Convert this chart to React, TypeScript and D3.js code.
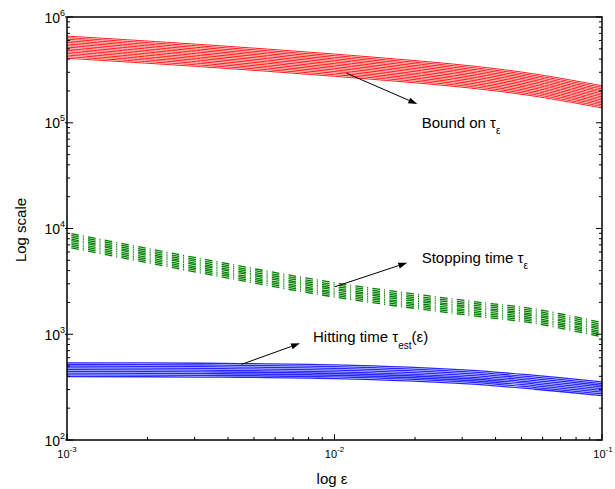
import React from "react";
import * as d3 from "d3";

// ---- data ----
const epsSamples = [0.001, 0.00316, 0.01, 0.0316, 0.0562, 0.1];
// lowest run of each band, values at epsSamples
const boundBase = [4.07e5, 3.39e5, 2.75e5, 2.14e5, 1.78e5, 1.38e5];
const stopBase = [6683, 3802, 2249, 1514, 1268, 942];
const hitBase = [398, 394, 380, 339, 302, 263];
// per-run multipliers (the runs stacked inside each band)
const boundRuns = [1.0, 1.035, 1.072, 1.109, 1.148, 1.189, 1.23, 1.274, 1.318, 1.365, 1.413, 1.462, 1.514, 1.567, 1.622];
const stopRuns = [1.0, 1.04, 1.08, 1.12, 1.17, 1.21, 1.26, 1.31, 1.365];
const hitRuns = [1.0, 1.038, 1.078, 1.12, 1.162, 1.207, 1.253, 1.3, 1.35];

const yMajor = [1e2, 1e3, 1e4, 1e5, 1e6];
const yMajorExp = ["2", "3", "4", "5", "6"];
const xMajor = [1e-3, 1e-2, 1e-1];
const xMajorExp = ["-3", "-2", "-1"];
const minorMult = [2, 3, 4, 5, 6, 7, 8, 9];

const W = 615;
const H = 489;
const L = 67, R = 602, T = 17, B = 440;
const FONT = "Arial, 'Liberation Sans', Helvetica, sans-serif";

export default function App() {
  const x = d3.scaleLog().domain([1e-3, 1e-1]).range([L, R]);
  const y = d3.scaleLog().domain([1e2, 1e6]).range([B, T]);

  const line = d3
    .line<[number, number]>()
    .x((d) => x(d[0]))
    .y((d) => y(d[1]))
    .curve(d3.curveCatmullRom.alpha(0.5));

  const runsPaths = (base: number[], runs: number[]) =>
    runs.map((m) => line(epsSamples.map((e, i) => [e, base[i] * m]))!);

  const yMinor: number[] = [];
  yMajor.slice(0, -1).forEach((v) => minorMult.forEach((m) => yMinor.push(v * m)));
  const xMinor: number[] = [];
  xMajor.slice(0, -1).forEach((v) => minorMult.forEach((m) => xMinor.push(v * m)));

  const arrow = (x1: number, y1: number, x2: number, y2: number) => {
    const a = Math.atan2(y2 - y1, x2 - x1);
    const len = 9, hw = 3;
    const bx = x2 - len * Math.cos(a), by = y2 - len * Math.sin(a);
    const px = -Math.sin(a) * hw, py = Math.cos(a) * hw;
    return (
      <g>
        <line x1={x1} y1={y1} x2={bx} y2={by} stroke="#000" strokeWidth={1} />
        <polygon points={`${x2},${y2} ${bx + px},${by + py} ${bx - px},${by - py}`} fill="#000" />
      </g>
    );
  };

  return (
    <svg
      width={W}
      height={H}
      style={{ position: "absolute", left: 0, top: 0, background: "#fff" }}
      fontFamily={FONT}
    >
      <defs>
        <clipPath id="plotclip">
          <rect x={L} y={T} width={R - L} height={B - T} />
        </clipPath>
      </defs>
      <rect x={0} y={0} width={W} height={H} fill="#fff" />

      <g clipPath="url(#plotclip)" fill="none">
        {runsPaths(boundBase, boundRuns).map((d, i) => (
          <path key={"b" + i} d={d} stroke="#ff0000" strokeWidth={0.9} />
        ))}
        {runsPaths(stopBase, stopRuns).map((d, i) => (
          <path
            key={"s" + i}
            d={d}
            stroke="#008000"
            strokeWidth={1.3}
            strokeDasharray="7.7 4 1 4.3"
            strokeDashoffset={12.5}
          />
        ))}
        {runsPaths(hitBase, hitRuns).map((d, i) => (
          <path key={"h" + i} d={d} stroke="#0000ff" strokeWidth={1.3} strokeOpacity={0.85} />
        ))}
      </g>

      {/* frame */}
      <rect x={L} y={T} width={R - L} height={B - T} fill="none" stroke="#000" strokeWidth={1.5} />

      {/* y ticks (left and right, inward) */}
      {yMajor.map((v) => (
        <g key={"ym" + v}>
          <line x1={L - 2} x2={L + 6} y1={y(v)} y2={y(v)} stroke="#000" strokeWidth={1} />
          <line x1={R - 6} x2={R} y1={y(v)} y2={y(v)} stroke="#000" strokeWidth={1} />
        </g>
      ))}
      {yMinor.map((v) => (
        <g key={"yn" + v}>
          <line x1={L} x2={L + 3} y1={y(v)} y2={y(v)} stroke="#000" strokeWidth={1} />
          <line x1={R - 3} x2={R} y1={y(v)} y2={y(v)} stroke="#000" strokeWidth={1} />
        </g>
      ))}
      {/* x ticks (bottom, inward) */}
      {xMajor.map((v) => (
        <line key={"xm" + v} x1={x(v)} x2={x(v)} y1={B} y2={B - 6} stroke="#000" strokeWidth={1} />
      ))}
      {xMinor.map((v) => (
        <line key={"xn" + v} x1={x(v)} x2={x(v)} y1={B} y2={B - 3} stroke="#000" strokeWidth={1} />
      ))}

      {/* y tick labels */}
      {yMajor.map((v, i) => (
        <text key={"yl" + v} x={65} y={y(v) + 5.5} textAnchor="end" fontSize={14} fill="#000">
          10
          <tspan fontSize={9} dy={-7}>
            {yMajorExp[i]}
          </tspan>
        </text>
      ))}
      {/* x tick labels */}
      {xMajor.map((v, i) => (
        <text
          key={"xl" + v}
          x={x(v) + (i === xMajor.length - 1 ? 1 : 0)}
          y={457.5}
          textAnchor="middle"
          fontSize={11}
          fill="#000"
        >
          10
          <tspan fontSize={8} dy={-6}>
            {xMajorExp[i]}
          </tspan>
        </text>
      ))}

      {/* axis titles */}
      <text x={332} y={484} textAnchor="middle" fontSize={15} fill="#000">
        log ε
      </text>
      <text
        transform={`translate(26,230) rotate(-90)`}
        textAnchor="middle"
        fontSize={15}
        fill="#000"
      >
        Log scale
      </text>

      {/* annotations */}
      {arrow(346.7, 73.3, 417.3, 104)}
      <text x={421.7} y={128.3} fontSize={15} fill="#000">
        Bound on τ
        <tspan fontSize={10} dy={6}>
          ε
        </tspan>
      </text>

      {arrow(335, 286.7, 407.3, 262.7)}
      <text x={421.7} y={263.3} fontSize={15} fill="#000">
        Stopping time τ
        <tspan fontSize={10} dy={6}>
          ε
        </tspan>
      </text>

      {arrow(241.7, 364.3, 300, 343.3)}
      <text x={313} y={341.7} fontSize={15} fill="#000">
        Hitting time τ
        <tspan fontSize={10} dy={7}>
          est
        </tspan>
        <tspan dy={-7}>(ε)</tspan>
      </text>
    </svg>
  );
}
